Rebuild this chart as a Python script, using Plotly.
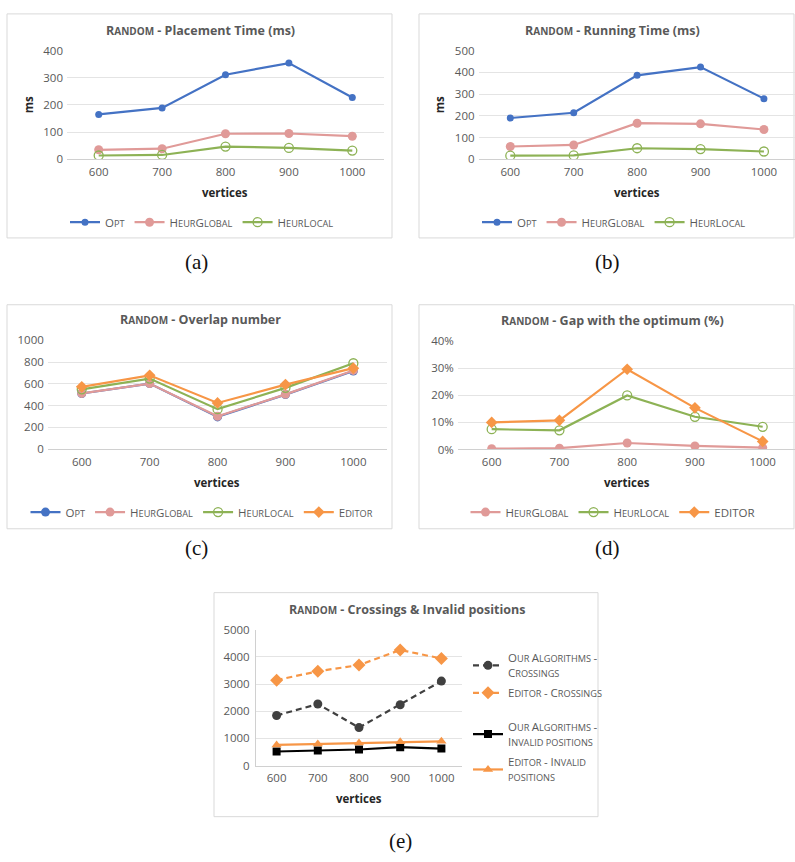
import plotly.graph_objects as go

W, H = 795, 862

# ---------------- data ----------------
cats = ["600", "700", "800", "900", "1000"]

place_opt = [165, 189, 311, 354, 227]
place_hg = [35, 39, 94, 95, 85]
place_hl = [14, 16, 47, 42, 32]

run_opt = [190, 214, 386, 424, 279]
run_hg = [59, 66, 166, 163, 137]
run_hl = [17, 18, 51, 47, 36]

ov_opt = [512, 603, 297, 502, 718]
ov_hg = [513, 603, 302, 504, 724]
ov_hl = [550, 649, 368, 564, 790]
ov_ed = [573, 679, 425, 594, 745]

gap_hg = [0.003, 0.005, 0.024, 0.013, 0.007]
gap_hl = [0.075, 0.071, 0.200, 0.121, 0.084]
gap_ed = [0.100, 0.108, 0.297, 0.154, 0.030]

cr_ours = [1843, 2265, 1398, 2240, 3108]
cr_ed = [3144, 3470, 3698, 4253, 3940]
inv_ours = [518, 555, 591, 676, 627]
inv_ed = [759, 795, 831, 880, 892]

y_ticks_a = [0, 100, 200, 300, 400]
y_ticks_b = [0, 100, 200, 300, 400, 500]
y_ticks_c = [0, 200, 400, 600, 800, 1000]
y_ticks_d = [0, 0.1, 0.2, 0.3, 0.4]
y_ticks_e = [0, 1000, 2000, 3000, 4000, 5000]

# ---------------- styles ----------------
BLUE = "#4472C4"
PINK = "#E09A98"
GREEN = "#8DB255"
ORANGE = "#F79646"
DARK = "#404040"
BLACK = "#000000"
GRID = "#e4e4e4"
AXIS = "#d0d0d0"
TXT = "#595959"
FONT = "Open Sans"


def sc(s, small=9.2):
    """small caps emulation"""
    out, run = "", ""
    for ch in s:
        if ch.islower() or (ch == " " and run):
            run += ch.upper()
        else:
            if run:
                out += f'<span style="font-size:{small}px">{run}</span>'
                run = ""
            out += ch
    if run:
        out += f'<span style="font-size:{small}px">{run}</span>'
    return out


def fx(p):
    return p / W


def fy(p):
    return 1 - p / H


fig = go.Figure()


def line(x, y, name, color, sym, size, ax, leg, dash="solid", open_=False, width=2.2):
    mk = dict(symbol=sym, size=size, color=color)
    if open_:
        mk = dict(symbol="circle-open", size=size, color=color, line=dict(width=1.3, color=color))
    fig.add_trace(go.Scatter(
        x=x, y=y, name=name, mode="lines+markers",
        line=dict(color=color, width=width, dash=dash),
        marker=mk, xaxis="x" + ax, yaxis="y" + ax, legend=leg,
    ))


# (a)
line(cats, place_opt, sc("Opt"), BLUE, "circle", 7, "", "legend")
line(cats, place_hg, sc("HeurGlobal"), PINK, "circle", 9, "", "legend")
line(cats, place_hl, sc("HeurLocal"), GREEN, "circle", 9, "", "legend", open_=True)
# (b)
line(cats, run_opt, sc("Opt"), BLUE, "circle", 7, "2", "legend2")
line(cats, run_hg, sc("HeurGlobal"), PINK, "circle", 9, "2", "legend2")
line(cats, run_hl, sc("HeurLocal"), GREEN, "circle", 9, "2", "legend2", open_=True)
# (c)
line(cats, ov_opt, sc("Opt"), BLUE, "circle", 9, "3", "legend3")
line(cats, ov_hg, sc("HeurGlobal"), PINK, "circle", 9, "3", "legend3")
line(cats, ov_hl, sc("HeurLocal"), GREEN, "circle", 9, "3", "legend3", open_=True)
line(cats, ov_ed, sc("Editor"), ORANGE, "diamond", 9, "3", "legend3")
# (d)
line(cats, gap_hg, sc("HeurGlobal"), PINK, "circle", 9, "4", "legend4")
line(cats, gap_hl, sc("HeurLocal"), GREEN, "circle", 9, "4", "legend4", open_=True)
line(cats, gap_ed, "EDITOR", ORANGE, "diamond", 9, "4", "legend4")
# (e)
line(cats, cr_ours, sc("Our Algorithms -") + "<br>" + sc("Crossings"), DARK, "circle", 9, "5", "legend5", dash="6px,4px")
line(cats, cr_ed, sc("Editor - Crossings"), ORANGE, "diamond", 10, "5", "legend6", dash="6px,4px")
line(cats, inv_ours, sc("Our Algorithms -") + "<br>" + sc("Invalid positions"), BLACK, "square", 8, "5", "legend7")
line(cats, inv_ed, sc("Editor - Invalid") + "<br>" + sc("positions"), ORANGE, "triangle-up", 9, "5", "legend8")

tickfont = dict(family=FONT, size=11.5, color=TXT)


def xax(x0, x1, y1, rng_hi=4.5):
    return dict(domain=[fx(x0), min(1, fx(x1))], range=[-0.5, rng_hi], type="category",
                showgrid=False, showline=True, linecolor=AXIS, linewidth=1,
                ticks="", tickfont=tickfont, ticklabelstandoff=2, fixedrange=True)


def yax(y0, y1, ticks, rng, anchor, fmt=None, showline=False):
    d = dict(domain=[fy(y1), fy(y0)], range=rng, tickvals=ticks, showgrid=True,
             gridcolor=GRID, gridwidth=1, zeroline=False, showline=showline,
             linecolor=AXIS, ticks="", tickfont=tickfont, anchor=anchor,
             ticklabelstandoff=3)
    if fmt:
        d["tickformat"] = fmt
    return d


layout = dict(
    width=W, height=H, margin=dict(l=0, r=0, t=0, b=0),
    paper_bgcolor="white", plot_bgcolor="rgba(0,0,0,0)",
    font=dict(family=FONT, color=TXT),
    xaxis=xax(67, 384, 154) | dict(anchor="y"),
    yaxis=yax(43.3, 154, y_ticks_a, [0, 400], "x"),
    xaxis2=xax(478.6, 795.6, 154, 4.49) | dict(anchor="y2"),
    yaxis2=yax(43.3, 154, y_ticks_b, [0, 500], "x2"),
    xaxis3=xax(47.8, 387.3, 449) | dict(anchor="y3"),
    yaxis3=yax(338.3, 449, y_ticks_c, [0, 1000], "x3"),
    xaxis4=xax(457.8, 795, 449, 4.477) | dict(anchor="y4"),
    yaxis4=yax(339.3, 449.3, y_ticks_d, [0, 0.4], "x4", fmt=".0%"),
    xaxis5=xax(256, 462, 771) | dict(anchor="y5"),
    yaxis5=yax(632.7, 771, y_ticks_e, [0, 5000], "x5", showline=True),
    showlegend=True,
)

legfont = dict(family=FONT, size=11.5, color=TXT)


def hleg(xc, yc):
    return dict(orientation="h", x=fx(xc), xanchor="center", y=fy(yc), yanchor="middle",
                bgcolor="rgba(0,0,0,0)", font=legfont, itemwidth=30,
                itemclick=False, itemdoubleclick=False)


def vleg(x0, yc):
    return dict(orientation="v", x=fx(x0), xanchor="left", y=fy(yc), yanchor="middle",
                bgcolor="rgba(0,0,0,0)", font=legfont, itemwidth=30,
                itemclick=False, itemdoubleclick=False)


layout["legend"] = hleg(202, 218)
layout["legend2"] = hleg(614, 218)
layout["legend3"] = hleg(202, 513)
layout["legend4"] = hleg(613, 513)
layout["legend5"] = vleg(468, 669)
layout["legend6"] = vleg(468, 697)
layout["legend7"] = vleg(468, 739)
layout["legend8"] = vleg(468, 775)

fig.update_layout(**layout)

# boxes
for (x0, y0, x1, y1) in [(7, 6, 392, 234), (419, 6, 794, 234), (7, 302, 392, 530),
                         (419, 302, 794, 530), (214, 595, 598, 823)]:
    fig.add_shape(type="rect", xref="paper", yref="paper", x0=fx(x0), x1=fx(x1),
                  y0=fy(y1), y1=fy(y0), line=dict(color="#d9d9d9", width=1), layer="below")

ann = []
titfont = dict(family=FONT, size=12.5, color=TXT, weight="bold")
for txt, xc, yc in [(sc("Random", 10) + " - Placement Time (ms)", 200.5, 23),
                    (sc("Random", 10) + " - Running Time (ms)", 612.5, 23),
                    (sc("Random", 10) + " - Overlap number", 200, 317),
                    (sc("Random", 10) + " - Gap with the optimum (%)", 612.7, 318),
                    (sc("Random", 10) + " - Crossings &amp; Invalid positions", 406.7, 611.7)]:
    ann.append(dict(text=txt, x=fx(xc), y=fy(yc), xref="paper", yref="paper",
                    showarrow=False, xanchor="center", yanchor="middle", font=titfont))

labfont = dict(family=FONT, size=11.5, color="#262626", weight="bold")
for xc, yc in [(225, 188), (637, 188), (217, 483), (626.7, 483), (358.8, 805)]:
    ann.append(dict(text="vertices", x=fx(xc), y=fy(yc), xref="paper", yref="paper",
                    showarrow=False, xanchor="center", yanchor="middle", font=labfont))
for xc, yc in [(28, 99), (439, 99)]:
    ann.append(dict(text="ms", x=fx(xc), y=fy(yc), xref="paper", yref="paper", textangle=-90,
                    showarrow=False, xanchor="center", yanchor="middle", font=labfont))

capfont = dict(family="Liberation Serif", size=21, color="#111111")
for txt, xc, yc in [("(a)", 196, 258), ("(b)", 607, 258), ("(c)", 196, 550),
                    ("(d)", 607, 550), ("(e)", 400, 848)]:
    ann.append(dict(text=txt, x=fx(xc), y=fy(yc), xref="paper", yref="paper",
                    showarrow=False, xanchor="center", yanchor="middle", font=capfont))

fig.update_layout(annotations=ann)
fig.write_html("out.html")
